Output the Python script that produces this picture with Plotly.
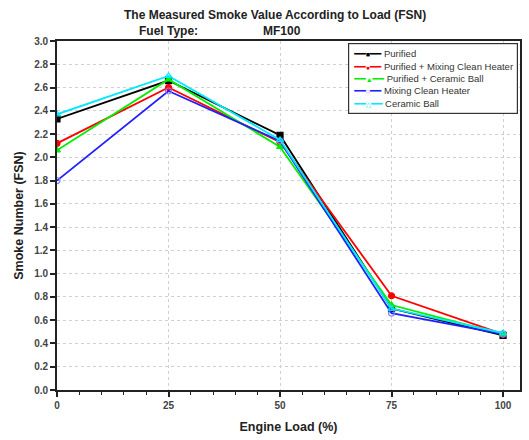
import plotly.graph_objects as go

loads = [0, 25, 50, 75, 100]
purified = [2.33, 2.66, 2.19, 0.70, 0.47]
pur_mix = [2.12, 2.60, 2.13, 0.81, 0.48]
pur_cer = [2.06, 2.67, 2.09, 0.73, 0.48]
mixing = [1.80, 2.57, 2.14, 0.66, 0.48]
ceramic = [2.37, 2.70, 2.15, 0.70, 0.49]

series = [
    ("Purified", purified, "#000000", "square", "#000000", "■"),
    ("Purified + Mixing Clean Heater", pur_mix, "#ff0000", "circle", "#ff0000", "●"),
    ("Purified + Ceramic Ball", pur_cer, "#00ee00", "triangle-up", "#00ee00", "▲"),
    ("Mixing Clean Heater", mixing, "#2020ff", "circle-open", "#8080ff", "○"),
    ("Ceramic Ball", ceramic, "#00e8ff", "triangle-up-open", "#00e8ff", "△"),
]

fig = go.Figure()
for name, vals, col, sym, mcol, glyph in series:
    fig.add_trace(go.Scatter(
        x=loads, y=vals, name=name, mode="lines+markers",
        line=dict(color=col, width=1.8),
        marker=dict(symbol=sym, size=6, color=mcol, line=dict(color=mcol, width=1.2)),
        showlegend=False,
    ))

font = "Liberation Sans, Arial, sans-serif"
fig.update_layout(
    width=529, height=440,
    margin=dict(l=57, r=7, t=41, b=50),
    paper_bgcolor="white", plot_bgcolor="white",
    font=dict(family=font, color="#222222", size=10),
    showlegend=False,
    xaxis=dict(range=[0, 103.8], tickvals=loads, ticktext=[f"<b>{v}</b>" for v in loads],
               ticks="outside", ticklen=5, tickcolor="#222", tickwidth=1.5,
               minor=dict(dtick=5, tick0=0, ticks="outside", ticklen=3, tickcolor="#222", tickwidth=1.2, showgrid=False),
               showline=True, linecolor="#222", linewidth=1.8, mirror=True,
               showgrid=True, gridcolor="#d0d0d0", griddash="dot", gridwidth=1,
               tickfont=dict(size=10, family=font, color="#444"),
               title=dict(text="<b>Engine Load (%)</b>", font=dict(size=12.5, family=font, color="#222"), standoff=12),
               zeroline=False),
    yaxis=dict(range=[0, 3.0], tickvals=[i * 0.2 for i in range(16)],
               ticktext=[f"<b>{i * 0.2:.1f}</b>" for i in range(16)],
               ticks="outside", ticklen=5, tickcolor="#222", tickwidth=1.5,
               showline=True, linecolor="#222", linewidth=1.8, mirror=True,
               showgrid=True, gridcolor="#d0d0d0", griddash="dot", gridwidth=1,
               tickfont=dict(size=10, family=font, color="#444"),
               title=dict(text="<b>Smoke Number (FSN)</b>", font=dict(size=12.5, family=font, color="#222"), standoff=8),
               zeroline=False),
)

fig.add_annotation(text="<b>The Measured Smoke Value According to Load (FSN)</b>",
                   x=0.471, y=1.0, xref="paper", yref="paper", yshift=26, showarrow=False,
                   xanchor="center", yanchor="middle", font=dict(size=12, family=font, color="#222"))
fig.add_annotation(text="<b>Fuel Type:</b>", x=0.172, y=1.0, xref="paper", yref="paper", yshift=10,
                   showarrow=False, xanchor="left", yanchor="middle", font=dict(size=12, family=font, color="#222"))
fig.add_annotation(text="<b>MF100</b>", x=0.441, y=1.0, xref="paper", yref="paper", yshift=10,
                   showarrow=False, xanchor="left", yanchor="middle", font=dict(size=12, family=font, color="#222"))

legend_lines = []
for name, vals, col, sym, mcol, glyph in series:
    legend_lines.append(
        f"<span style='color:{col}'>━━</span><span style='color:{mcol};font-size:7px'>{glyph}</span>"
        f"<span style='color:{col}'>━━</span> {name}"
    )
fig.add_annotation(text="<br>".join(legend_lines), x=0.995, y=0.993, xref="paper", yref="paper",
                   xanchor="right", yanchor="top", align="left", showarrow=False,
                   bgcolor="white", bordercolor="#333333", borderwidth=1.2, borderpad=4,
                   font=dict(size=9.5, family="Liberation Sans, DejaVu Sans, sans-serif", color="#333333"))

fig.write_html("out.html")
